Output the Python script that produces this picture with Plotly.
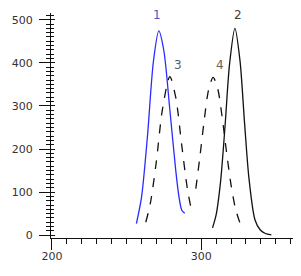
import plotly.graph_objects as go

# Peak 1 (blue, solid)
p1_x = [256.6, 260, 264, 268, 271.6, 275, 279, 283, 285, 287, 289]
p1_y = [27, 87, 229, 403, 474, 428, 291, 149, 92, 58, 51]
# Peak 2 (black, solid)
p2_x = [307.6, 310, 313, 316, 319, 322.6, 326, 329, 332, 336, 339.6, 343, 347]
p2_y = [17, 47, 125, 254, 397, 480, 405, 263, 132, 36, 12, 4, 1]
# Peak 3 (black, dashed)
p3_x = [262.9, 266, 270, 274, 279, 283, 287, 291, 294]
p3_y = [30, 75, 172, 291, 368, 319, 208, 102, 51]
# Peak 4 (black, dashed)
p4_x = [296.4, 299, 302, 305, 308, 311, 314, 317, 320, 323, 326]
p4_y = [108, 178, 266, 338, 366, 341, 275, 192, 117, 61, 28]

label_text = ["1", "2", "3", "4"]
label_x = [270.5, 324.8, 284.4, 312.6]
label_y = [511, 511, 395, 395]
label_color = ["#5050c8", "#404040", "#506070", "#706050"]

x_ticks = [200, 300]
y_ticks = [0, 100, 200, 300, 400, 500]

fig = go.Figure()
series = [
    (p1_x, p1_y, "#2a2aff", "solid"),
    (p2_x, p2_y, "#111111", "solid"),
    (p3_x, p3_y, "#111111", "dash"),
    (p4_x, p4_y, "#111111", "dash"),
]
for xs, ys, col, dash in series:
    fig.add_trace(go.Scatter(x=xs, y=ys, mode="lines",
                             line=dict(color=col, width=1.3, dash=dash, shape="spline", smoothing=0.8),
                             showlegend=False, hoverinfo="skip"))

for t, x, y, c in zip(label_text, label_x, label_y, label_color):
    fig.add_annotation(x=x, y=y, text=t, showarrow=False,
                       font=dict(family="DejaVu Sans", size=12, color=c))

font = dict(family="DejaVu Sans", size=11, color="#333333")
fig.update_layout(
    width=301, height=276,
    margin=dict(l=51, r=8, t=13, b=38, pad=0),
    paper_bgcolor="white", plot_bgcolor="white",
    xaxis=dict(range=[199.4, 361.5], tickvals=x_ticks, ticktext=[str(v) for v in x_ticks],
               showgrid=False, zeroline=False, showline=True, linecolor="#111111", linewidth=1.2,
               ticks="outside", ticklen=11, tickwidth=1.2, tickcolor="#111111",
               minor=dict(dtick=10, tick0=200, ticks="outside", ticklen=5, tickwidth=1.2, tickcolor="#111111"),
               tickfont=font, ticklabelstandoff=-3),
    yaxis=dict(range=[-6.5, 515.6], tickvals=y_ticks, ticktext=[str(v) for v in y_ticks],
               showgrid=False, zeroline=False, showline=True, linecolor="#111111", linewidth=1.2,
               ticks="outside", ticklen=11, tickwidth=1.2, tickcolor="#111111",
               minor=dict(dtick=10, tick0=0, ticks="outside", ticklen=4, tickwidth=1, tickcolor="#111111"),
               tickfont=font, ticklabelstandoff=4),
    yaxis2=dict(range=[-6.5, 515.6], overlaying="y", side="left", showgrid=False, zeroline=False,
                showline=False, showticklabels=False, tickvals=y_ticks, ticks="inside", ticklen=4,
                tickwidth=1, tickcolor="#111111",
                minor=dict(dtick=10, tick0=0, ticks="inside", ticklen=3, tickwidth=1, tickcolor="#111111")),
)
fig.add_trace(go.Scatter(x=[], y=[], yaxis="y2", showlegend=False))
fig.write_html("out.html")
